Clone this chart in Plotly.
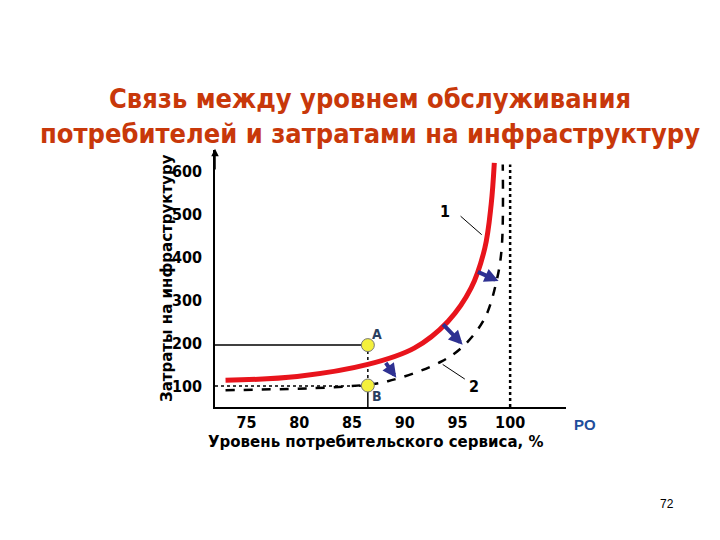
import plotly.graph_objects as go

# кривая 1 (сплошная красная) и кривая 2 (пунктир)
curve1_x = [73.0, 79.8, 86.5, 90.9, 94.1, 96.3, 97.6, 98.2, 98.5]
curve1_y = [113, 122, 150, 188, 250, 328, 421, 522, 619]
curve2_x = [73.0, 84.6, 88.4, 93.5, 95.7, 97.6, 98.7, 99.2, 99.3]
curve2_y = [90, 99, 111, 157, 196, 258, 343, 421, 615]

point_x = 86.5
point_a = 195
point_b = 101

# стрелки сдвига кривой
arrows = [((96.8, 367), (98.9, 344)), ((93.5, 247), (95.5, 196)), ((88.1, 157), (89.2, 119))]

x_ticks = [75, 80, 85, 90, 95, 100]
y_ticks = [100, 200, 300, 400, 500, 600]

narrow = "DejaVu Sans Condensed, Liberation Sans Narrow, sans-serif"

# область графика в пикселях: x 207..558, y 142..399
def px(x):
    return (x - 207) / 351

def py(y):
    return (399 - y) / 257

fig = go.Figure()
fig.add_trace(go.Scatter(x=[72, point_x], y=[point_a, point_a], mode="lines",
                         line=dict(color="black", width=1.5)))
fig.add_trace(go.Scatter(x=[72, point_x], y=[100, 100], mode="lines",
                         line=dict(color="black", width=1.5, dash="dot")))
fig.add_trace(go.Scatter(x=[point_x, point_x], y=[point_a, point_b], mode="lines",
                         line=dict(color="black", width=1.5, dash="dot")))
fig.add_trace(go.Scatter(x=[point_x, point_x], y=[51, point_b], mode="lines",
                         line=dict(color="black", width=1.5)))
fig.add_trace(go.Scatter(x=[100, 100], y=[51, 615], mode="lines",
                         line=dict(color="black", width=2.5, dash="dot")))
fig.add_trace(go.Scatter(x=curve2_x, y=curve2_y, mode="lines", line_shape="spline",
                         line=dict(color="black", width=2.5, dash="dash")))
fig.add_trace(go.Scatter(x=curve1_x, y=curve1_y, mode="lines", line_shape="spline",
                         line=dict(color="#e8141c", width=5)))
fig.add_trace(go.Scatter(x=[point_x, point_x], y=[point_a, point_b], mode="markers",
                         marker=dict(size=13, color="#f4f03c", line=dict(color="#777", width=1))))
# выноски к подписям 1 и 2
fig.add_trace(go.Scatter(x=[95.3, 97.3], y=[495, 452], mode="lines", line=dict(color="black", width=1)))
fig.add_trace(go.Scatter(x=[93.6, 95.7], y=[150, 116], mode="lines", line=dict(color="black", width=1)))

for (x0, y0), (x1, y1) in arrows:
    fig.add_annotation(x=x1, y=y1, ax=x0, ay=y0, xref="x", yref="y", axref="x", ayref="y",
                       text="", showarrow=True, arrowhead=2, arrowsize=0.7, arrowwidth=4,
                       arrowcolor="#2e3192")

lbl = dict(family=narrow, size=16, color="black", weight="bold")
fig.add_annotation(x=93.8, y=506, text="1", showarrow=False, font=lbl)
fig.add_annotation(x=96.6, y=99, text="2", showarrow=False, font=lbl)
fig.add_annotation(x=point_x + 0.9, y=point_a + 25, text="А", showarrow=False, font=dict(family=narrow, size=14, weight="bold"))
fig.add_annotation(x=point_x + 0.9, y=point_b - 25, text="В", showarrow=False, font=dict(family=narrow, size=14, weight="bold"))
# стрелка оси Y
fig.add_annotation(x=72, y=652, ax=72, ay=600, xref="x", yref="y", axref="x", ayref="y",
                   text="", showarrow=True, arrowhead=2, arrowwidth=1.5, arrowcolor="black")

fig.add_annotation(x=px(362), y=py(73), xref="paper", yref="paper",
                   text="Связь между уровнем обслуживания<br>потребителей и затратами на инфраструктуру",
                   showarrow=False, font=dict(family=narrow, size=27, color="#c8380a", weight="bold"))
fig.add_annotation(x=px(148), y=py(270), xref="paper", yref="paper", textangle=-90,
                   text="Затраты на инфраструктуру", showarrow=False,
                   font=dict(family="DejaVu Sans", size=15, color="black", weight="bold"))
fig.add_annotation(x=px(367), y=py(445), xref="paper", yref="paper",
                   text="Уровень потребительского сервиса, %", showarrow=False,
                   font=dict(family="DejaVu Sans", size=15, color="black", weight="bold"))
fig.add_annotation(x=px(590), y=py(427), xref="paper", yref="paper", text="PO",
                   showarrow=False, font=dict(family="Arial, sans-serif", size=15, color="#1f4e9c", weight="bold"))
fig.add_annotation(x=px(668), y=py(505), xref="paper", yref="paper", text="72",
                   showarrow=False, font=dict(family="Arial, sans-serif", size=12, color="black"))

tick_font = dict(family=narrow, size=16, color="black", weight="bold")
fig.update_layout(
    width=720, height=540, showlegend=False,
    paper_bgcolor="white", plot_bgcolor="white",
    margin=dict(l=207, r=162, t=142, b=141),
    xaxis=dict(range=[72, 105.3], tickvals=x_ticks, showgrid=False, zeroline=False,
               showline=True, linecolor="black", linewidth=1.5, ticks="", tickfont=tick_font),
    yaxis=dict(range=[51, 649], tickvals=y_ticks, showgrid=False, zeroline=False,
               showline=True, linecolor="black", linewidth=1.5, ticks="", tickfont=tick_font,
               ticklabelstandoff=8),
)
fig.write_html("out.html")
